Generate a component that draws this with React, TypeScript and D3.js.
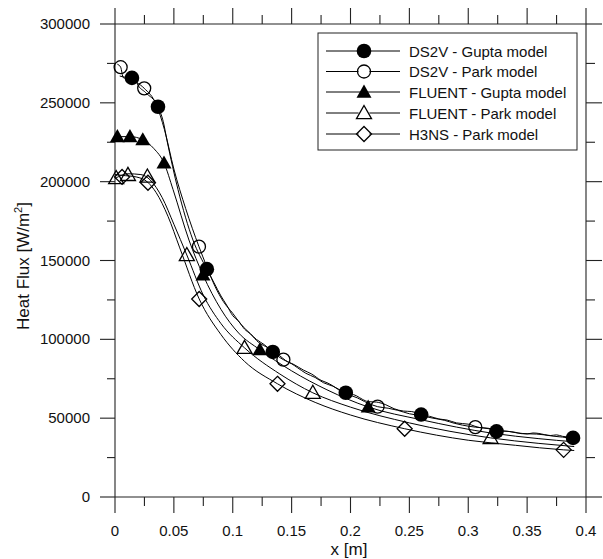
import React from "react";
import * as d3 from "d3";

type Pt = [number, number];

const xTicksMajor = [0, 0.05, 0.1, 0.15, 0.2, 0.25, 0.3, 0.35, 0.4];
const xTickLabels = ["0", "0.05", "0.1", "0.15", "0.2", "0.25", "0.3", "0.35", "0.4"];
const yTicksMajor = [0, 50000, 100000, 150000, 200000, 250000, 300000];
const yTickLabels = ["0", "50000", "100000", "150000", "200000", "250000", "300000"];

const seriesNames = [
  "DS2V - Gupta model",
  "DS2V - Park model",
  "FLUENT - Gupta model",
  "FLUENT - Park model",
  "H3NS - Park model",
];

// Lines
const ds2vGuptaLine: Pt[] = [
  [0.004, 267000], [0.0144, 265800], [0.017, 269000], [0.019, 262000], [0.026, 256500],
  [0.0365, 247500], [0.041, 238000], [0.0442, 226000], [0.0535, 195000], [0.0662, 163000],
  [0.078, 144500], [0.084, 136000], [0.09, 127500], [0.095, 121500], [0.1, 115000],
  [0.105, 111500], [0.11, 106500], [0.115, 103500], [0.12, 100000], [0.127, 96500],
  [0.134, 92000], [0.14, 89500], [0.145, 86500], [0.152, 84000], [0.16, 80500],
  [0.167, 78000], [0.175, 74000], [0.18, 72500], [0.185, 70500], [0.19, 68000],
  [0.196, 66000], [0.2, 65500], [0.205, 64200], [0.21, 62000], [0.215, 60500],
  [0.222, 60200], [0.23, 58500], [0.237, 56000], [0.245, 54500], [0.252, 54200],
  [0.26, 52000], [0.267, 51200], [0.275, 49500], [0.282, 48800], [0.29, 47000],
  [0.3, 46200], [0.31, 44000], [0.317, 43600], [0.324, 42000], [0.333, 41700],
  [0.34, 41000], [0.345, 40200], [0.35, 40000], [0.355, 40600], [0.36, 40300],
  [0.365, 39500], [0.37, 39000], [0.375, 39400], [0.38, 38500], [0.385, 38000], [0.389, 37500],
];
const ds2vParkLine: Pt[] = [
  [0.002, 274500], [0.0048, 272600], [0.007, 266000], [0.012, 265000], [0.0248, 259200],
  [0.035, 249000], [0.042, 233000], [0.05, 208000], [0.06, 183000], [0.0713, 158800],
  [0.078, 146000], [0.085, 133500], [0.092, 124000], [0.1, 116500], [0.107, 109500],
  [0.115, 103500], [0.122, 98000], [0.13, 94500], [0.137, 90000], [0.143, 87100],
  [0.15, 84500], [0.155, 82000], [0.162, 78500], [0.17, 75800], [0.177, 72500],
  [0.185, 70300], [0.192, 67500], [0.2, 64500], [0.206, 62800], [0.212, 60500],
  [0.218, 58500], [0.223, 57300], [0.232, 56300], [0.24, 55000], [0.25, 52800],
  [0.26, 51600], [0.27, 50000], [0.28, 48600], [0.288, 46800], [0.295, 45600],
  [0.306, 44300], [0.313, 43800], [0.32, 43000], [0.328, 42000], [0.335, 41500],
  [0.342, 40600], [0.35, 40100], [0.358, 39900], [0.365, 39400], [0.372, 38600],
  [0.38, 38000], [0.39, 37000],
];
const fluentGuptaLine: Pt[] = [
  [0, 228500], [0.0127, 228600], [0.0236, 226600], [0.033, 221000], [0.0416, 211900],
  [0.0493, 195000], [0.0628, 163000], [0.0747, 140900], [0.09, 119000], [0.105, 104000],
  [0.123, 93400], [0.15, 80000], [0.18, 68000], [0.215, 57100], [0.26, 49000],
  [0.32, 40500], [0.36, 37000], [0.39, 35000],
];
const fluentParkLine: Pt[] = [
  [0, 202000], [0.011, 205000], [0.022, 204500], [0.03, 201000], [0.04, 190000],
  [0.05, 173000], [0.061, 153500], [0.075, 128000], [0.09, 110000], [0.11, 94600],
  [0.14, 78000], [0.168, 66100], [0.2, 57000], [0.25, 47000], [0.319, 37500],
  [0.36, 34000], [0.39, 32000],
];
const h3nsParkLine: Pt[] = [
  [0, 204500], [0.006, 204000], [0.018, 203000], [0.028, 199500], [0.035, 193000],
  [0.045, 178000], [0.055, 158000], [0.0715, 125600], [0.09, 103000], [0.11, 86000],
  [0.138, 71800], [0.17, 60000], [0.2, 52000], [0.246, 43300], [0.3, 36000],
  [0.34, 32800], [0.381, 29900], [0.39, 29500],
];

// Markers
const ds2vGuptaMarks: Pt[] = [
  [0.0144, 265800], [0.0365, 247500], [0.078, 144500], [0.134, 92000],
  [0.196, 66100], [0.26, 52300], [0.324, 41600], [0.389, 37500],
];
const ds2vParkMarks: Pt[] = [
  [0.0048, 272600], [0.0248, 259200], [0.0713, 158800], [0.143, 87100],
  [0.223, 57300], [0.306, 44300],
];
const fluentGuptaMarks: Pt[] = [
  [0.002, 228600], [0.0127, 228600], [0.0236, 226600], [0.0416, 211900],
  [0.0747, 140900], [0.123, 93400], [0.215, 57100],
];
const fluentParkMarks: Pt[] = [
  [0.001, 202300], [0.011, 204300], [0.0275, 203300], [0.061, 153500],
  [0.11, 94600], [0.168, 66100], [0.319, 37500],
];
const h3nsParkMarks: Pt[] = [
  [0.006, 203000], [0.028, 199300], [0.0715, 125600], [0.138, 71800],
  [0.246, 43300], [0.381, 29900],
];

const lines = [ds2vGuptaLine, ds2vParkLine, fluentGuptaLine, fluentParkLine, h3nsParkLine];
const marks = [ds2vGuptaMarks, ds2vParkMarks, fluentGuptaMarks, fluentParkMarks, h3nsParkMarks];
const markerKinds = ["filledCircle", "openCircle", "filledTri", "openTri", "diamond"];

const W = 603;
const H = 559;
const L = 115;
const R = 586;
const T = 24;
const B = 497;
const FONT = "'Liberation Sans', Arial, Helvetica, sans-serif";

const x = d3.scaleLinear().domain([0, 0.4]).range([L, R]);
const y = d3.scaleLinear().domain([0, 300000]).range([B, T]);

function Marker({ kind, cx, cy }: { kind: string; cx: number; cy: number }) {
  if (kind === "filledCircle") return <circle cx={cx} cy={cy} r={7.3} fill="#000" />;
  if (kind === "openCircle")
    return <circle cx={cx} cy={cy} r={6.5} fill="none" stroke="#000" strokeWidth={1.3} />;
  if (kind === "filledTri" || kind === "openTri") {
    const s = 7.5;
    const p = `M${cx},${cy - s}L${cx + s},${cy + s * 0.75}L${cx - s},${cy + s * 0.75}Z`;
    return kind === "filledTri" ? (
      <path d={p} fill="#000" />
    ) : (
      <path d={p} fill="none" stroke="#000" strokeWidth={1.3} />
    );
  }
  const s = 7.5;
  const p = `M${cx},${cy - s}L${cx + s},${cy}L${cx},${cy + s}L${cx - s},${cy}Z`;
  return <path d={p} fill="none" stroke="#000" strokeWidth={1.3} />;
}

export default function App() {
  const lineGen = d3
    .line<Pt>()
    .x((d) => x(d[0]))
    .y((d) => y(d[1]))
    .curve(d3.curveMonotoneX);

  const xMinor = d3.range(0, 9).map((i) => 0.025 + i * 0.05).filter((v) => v < 0.4);
  const yMinor = d3.range(0, 6).map((i) => 25000 + i * 50000);

  const legendRows = [51, 71.5, 92, 113, 134];

  return (
    <svg
      width={W}
      height={H}
      style={{ position: "absolute", left: 0, top: 0, background: "#fff" }}
      fontFamily={FONT}
    >
      <rect x={0} y={0} width={W} height={H} fill="#fff" />
      {/* frame */}
      <g stroke="#222" strokeWidth={1.1} fill="none">
        <line x1={L} y1={T} x2={R} y2={T} />
        <line x1={L} y1={B} x2={R} y2={B} />
        <line x1={L} y1={T} x2={L} y2={B} />
        <line x1={R} y1={T} x2={R} y2={B} />
        {xTicksMajor.map((v, i) => (
          <g key={"xm" + i}>
            <line x1={x(v)} y1={B} x2={x(v)} y2={B + 16} />
            <line x1={x(v)} y1={T} x2={x(v)} y2={T - 16} />
          </g>
        ))}
        {xMinor.map((v, i) => (
          <g key={"xn" + i}>
            <line x1={x(v)} y1={B} x2={x(v)} y2={B + 9} />
            <line x1={x(v)} y1={T} x2={x(v)} y2={T - 9} />
          </g>
        ))}
        {yTicksMajor.map((v, i) => (
          <g key={"ym" + i}>
            <line x1={L} y1={y(v)} x2={L - 15} y2={y(v)} />
            <line x1={R} y1={y(v)} x2={R + 16} y2={y(v)} />
          </g>
        ))}
        {yMinor.map((v, i) => (
          <g key={"yn" + i}>
            <line x1={L} y1={y(v)} x2={L - 8} y2={y(v)} />
            <line x1={R} y1={y(v)} x2={R + 9} y2={y(v)} />
          </g>
        ))}
      </g>
      {/* tick labels */}
      <g fontSize={15} fill="#111">
        {xTicksMajor.map((v, i) => (
          <text key={"xl" + i} x={x(v)} y={536} textAnchor="middle">
            {xTickLabels[i]}
          </text>
        ))}
        {yTicksMajor.map((v, i) => (
          <text key={"yl" + i} x={90} y={y(v) + 5} textAnchor="end">
            {yTickLabels[i]}
          </text>
        ))}
      </g>
      <text x={349} y={555} fontSize={17} textAnchor="middle" fill="#111">
        x [m]
      </text>
      <text
        transform={`translate(29,266) rotate(-90)`}
        fontSize={17}
        textAnchor="middle"
        fill="#111"
      >
        Heat Flux [W/m<tspan fontSize={11} dy={-7}>2</tspan>
        <tspan dy={7}>]</tspan>
      </text>

      {/* curves */}
      <g fill="none" stroke="#000" strokeWidth={1}>
        {lines.map((ln, i) => (
          <path key={"ln" + i} d={lineGen(ln) || ""} />
        ))}
      </g>
      {/* markers */}
      {marks.map((ms, i) => (
        <g key={"mk" + i}>
          {ms.map((d, j) => (
            <Marker key={j} kind={markerKinds[i]} cx={x(d[0])} cy={y(d[1])} />
          ))}
        </g>
      ))}

      {/* legend */}
      <rect x={318} y={33} width={259} height={117} fill="#fff" stroke="#222" strokeWidth={1} />
      {seriesNames.map((name, i) => (
        <g key={"lg" + i}>
          <line x1={326} x2={400} y1={legendRows[i]} y2={legendRows[i]} stroke="#000" strokeWidth={1} />
          {markerKinds[i] !== "filledCircle" && markerKinds[i] !== "filledTri" ? (
            <circle cx={364} cy={legendRows[i]} r={5.5} fill="#fff" />
          ) : null}
          <Marker kind={markerKinds[i]} cx={364} cy={legendRows[i]} />
          <text x={409} y={legendRows[i] + 5.5} fontSize={15} fill="#111">
            {name}
          </text>
        </g>
      ))}
    </svg>
  );
}
